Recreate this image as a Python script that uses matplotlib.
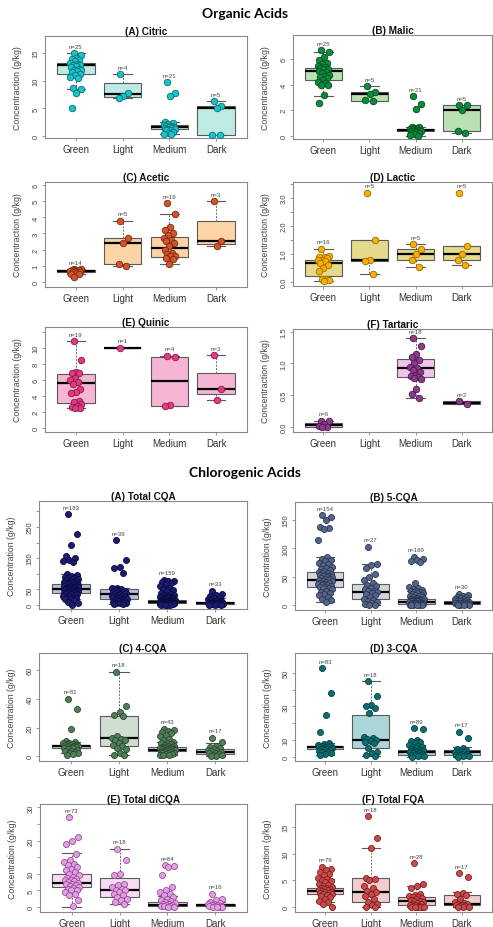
import numpy as np
import matplotlib
matplotlib.use("Agg")
import matplotlib.pyplot as plt

plt.rcParams['font.family'] = ['Liberation Sans', 'DejaVu Sans']

groups = ["Green", "Light", "Medium", "Dark"]

# ---------------- Organic acids ----------------
citric_pts = [
    [15.0, 14.6, 14.2, 14.0, 13.7, 13.5, 13.3, 13.1, 12.9, 12.8, 12.6, 12.4, 12.2, 12.0, 11.9, 11.7, 11.5, 11.3, 11.0, 10.7, 10.5, 8.7, 8.5, 7.7, 5.0],
    [11.2, 7.8, 7.3, 6.8],
    [9.7, 7.7, 7.2, 2.5, 2.3, 2.2, 2.0, 1.9, 1.8, 1.7, 1.6, 1.5, 1.4, 1.3, 1.2, 1.1, 1.0, 0.8, 0.6, 0.4, 0.3],
    [6.4, 5.5, 5.0, 0.2, 0.1],
]
citric_box = [(8.5, 11.3, 12.8, 13.3, 15.0), (6.8, 7.1, 7.6, 9.6, 11.2), (0.3, 1.2, 1.6, 2.0, 2.6), (0.1, 0.2, 5.1, 5.5, 6.4)]
citric_n = ["n=25", "n=4", "n=21", "n=5"]

malic_pts = [
    [6.7, 6.6, 6.2, 5.9, 5.7, 5.6, 5.5, 5.4, 5.3, 5.25, 5.2, 5.1, 5.0, 4.9, 4.8, 4.7, 4.6, 4.5, 4.4, 4.2, 4.1, 4.0, 4.0, 3.2, 2.6],
    [3.9, 3.4, 3.3, 2.8, 2.7],
    [3.1, 2.5, 2.1, 0.7, 0.65, 0.6, 0.55, 0.5, 0.5, 0.45, 0.45, 0.4, 0.4, 0.35, 0.35, 0.3, 0.25, 0.2, 0.1, 0.05, 0.0],
    [2.4, 2.4, 2.0, 0.4, 0.2],
]
malic_box = [(3.1, 4.4, 5.1, 5.3, 6.6), (2.7, 2.75, 3.3, 3.4, 3.9), (0.0, 0.35, 0.45, 0.55, 0.7), (0.2, 0.4, 2.0, 2.4, 2.4)]
malic_n = ["n=25", "n=5", "n=21", "n=5"]

acetic_pts = [
    [0.8, 0.78, 0.75, 0.72, 0.7, 0.68, 0.65, 0.62, 0.6, 0.58, 0.55, 0.5, 0.45, 0.3],
    [3.8, 2.7, 2.4, 1.1, 1.0],
    [4.9, 4.2, 3.4, 3.2, 3.0, 2.9, 2.7, 2.6, 2.5, 2.4, 2.2, 2.0, 1.8, 1.7, 1.6, 1.6, 1.5, 1.4, 1.1],
    [5.0, 2.5, 2.2],
]
acetic_box = [(0.5, 0.6, 0.65, 0.75, 0.8), (1.0, 1.1, 2.4, 2.7, 3.8), (1.1, 1.55, 2.1, 2.8, 4.2), (2.2, 2.35, 2.5, 3.75, 5.0)]
acetic_n = ["n=14", "n=5", "n=19", "n=3"]

lactic_pts = [
    [1.2, 0.92, 0.9, 0.88, 0.85, 0.8, 0.8, 0.75, 0.7, 0.6, 0.5, 0.4, 0.12, 0.1, 0.08, 0.05],
    [3.2, 1.5, 0.8, 0.75, 0.3],
    [1.35, 1.2, 1.0, 0.8, 0.55],
    [3.2, 1.3, 1.0, 0.8, 0.6],
]
lactic_box = [(0.05, 0.22, 0.7, 0.78, 1.2), (0.3, 0.75, 0.78, 1.5, 1.5), (0.55, 0.8, 1.0, 1.2, 1.35), (0.6, 0.8, 1.0, 1.3, 1.3)]
lactic_n = ["n=16", "n=5", "n=5", "n=5"]

quinic_pts = [
    [10.8, 8.5, 7.0, 6.9, 6.8, 6.2, 6.0, 5.7, 5.5, 4.8, 4.5, 4.3, 3.3, 3.2, 3.0, 2.7, 2.6, 2.5, 2.5],
    [10.0],
    [9.0, 8.9, 2.9, 2.7],
    [9.1, 4.9, 3.5],
]
quinic_box = [(2.5, 3.1, 5.6, 6.7, 10.8), (10.0, 10.0, 10.0, 10.0, 10.0), (2.7, 2.75, 5.8, 8.9, 9.0), (3.5, 4.2, 4.9, 6.9, 9.1)]
quinic_n = ["n=19", "n=1", "n=4", "n=3"]

tartaric_pts = [
    [0.1, 0.1, 0.05, 0.02, 0.0, 0.0],
    [],
    [1.4, 1.28, 1.15, 1.1, 1.05, 1.0, 0.95, 0.93, 0.9, 0.86, 0.82, 0.8, 0.78, 0.77, 0.75, 0.6, 0.52, 0.46],
    [0.41, 0.36],
]
tartaric_box = [(0.0, 0.0, 0.03, 0.06, 0.1), None, (0.46, 0.78, 0.93, 1.07, 1.4), (0.36, 0.36, 0.38, 0.40, 0.41)]
tartaric_n = ["n=6", "", "n=18", "n=2"]

# ---------------- Chlorogenic acids ----------------
tcqa_pts = [
    [290, 228, 191, 156, 150, 145, 142, 138, 100, 95, 92, 90, 88, 86, 84, 82, 80, 78, 76, 75, 74, 72, 70, 69, 68, 67, 66, 65, 64, 63,
     62, 61, 60, 59, 58, 57, 56, 55, 54, 53, 52, 51, 50, 49, 48, 47, 46, 45, 44, 43, 42, 41, 40, 39, 38, 37, 36, 35, 34, 32,
     30, 28, 26, 24, 22, 20, 18, 15, 10, 5, 0],
    [207, 143, 123, 119, 104, 55, 53, 50, 48, 46, 45, 43, 42, 40, 38, 36, 35, 34, 32, 30, 28, 26, 25, 24, 22, 20, 19, 18, 16, 15,
     14, 12, 10, 9, 8, 6, 5, 4, 3],
    [80, 78, 76, 74, 70, 66, 62, 56, 52, 48, 45, 40, 36, 33, 31, 30, 28, 27, 26, 25, 24, 23, 22, 21, 20, 19, 18, 17, 16, 16,
     15, 15, 14, 14, 13, 13, 12, 12, 11, 11, 10, 10, 10, 9, 9, 9, 8, 8, 8, 7, 7, 7, 6, 6, 6, 5, 5, 5, 4, 4, 4, 3, 3, 2, 2, 1, 1, 0, 0],
    [46, 36, 32, 28, 24, 21, 19, 17, 15, 14, 12, 11, 10, 10, 9, 8, 8, 7, 7, 6, 6, 6, 5, 5, 4, 4, 3, 3, 2, 2, 1, 1, 0],
]
tcqa_box = [(18, 40, 52, 68, 98), (3, 19, 35, 51, 55), (0, 5, 10, 16, 32), (0, 3, 6, 10, 21)]
tcqa_n = ["n=183", "n=39", "n=159", "n=33"]

cqa5_pts = [
    [158, 155, 150, 138, 135, 133, 115, 85, 82, 80, 78, 75, 72, 70, 68, 66, 64, 62, 60, 58, 57, 56, 55, 54, 53, 52, 51, 50, 49, 48,
     47, 46, 45, 44, 43, 42, 41, 40, 39, 38, 37, 36, 35, 34, 33, 32, 31, 30, 28, 26, 24, 22, 20, 18, 15, 12, 10, 6],
    [103, 72, 70, 65, 55, 50, 45, 40, 36, 34, 30, 28, 26, 25, 24, 22, 20, 18, 15, 12, 10, 8, 6, 5, 3, 1, 0],
    [85, 82, 80, 78, 76, 40, 32, 30, 28, 27, 26, 25, 24, 23, 22, 21, 20, 19, 18, 17, 16, 15, 14, 13, 12, 12, 11, 11, 10, 10,
     9, 9, 8, 8, 8, 7, 7, 7, 6, 6, 6, 5, 5, 5, 4, 4, 4, 3, 3, 3, 2, 2, 2, 1, 1, 1, 0, 0, 0],
    [20, 18, 16, 15, 14, 13, 12, 11, 10, 9, 8, 8, 7, 7, 6, 6, 5, 5, 5, 4, 4, 4, 3, 3, 2, 2, 1, 1, 0, 0],
]
cqa5_box = [(6, 33, 44, 59, 85), (0, 12, 24, 38, 72), (0, 3, 6, 12, 25), (0, 2, 5, 8, 15)]
cqa5_n = ["n=154", "n=27", "n=169", "n=30"]

cqa4_pts = [
    [40, 33, 19, 10.5, 10, 9.5, 9, 8.8, 8.5, 8.2, 8, 7.8, 7.5, 7.3, 7, 6.8, 6.5, 6.2, 6, 5.8, 5.5, 5, 4.5, 4, 3.5, 3, 2.5, 2, 1.5, 1],
    [59, 35, 31, 29, 28, 14, 13, 12, 11.5, 11, 9, 8, 7, 6, 5, 2, 1, 1],
    [19, 18, 17.5, 17, 16, 15, 14, 12, 11, 10, 9.5, 9, 8.5, 8, 7.5, 7, 6.8, 6.5, 6.2, 6, 5.8, 5.5, 5.4, 5.2, 5, 4.8, 4.6, 4.5,
     4.3, 4, 3.8, 3.5, 3.2, 3, 2.8, 2.5, 2.2, 2, 1.8, 1.5, 1.2, 1, 0.8],
    [13, 10, 7.5, 6.5, 6, 5, 4.5, 4, 3.5, 3, 2.5, 2, 1.5, 1, 1, 0.5, 0.3],
]
cqa4_box = [(2, 6, 7, 8, 10), (1, 7, 13, 28, 59), (1, 3.5, 4.5, 6.2, 10), (0, 1.5, 3, 5, 9)]
cqa4_n = ["n=81", "n=18", "n=43", "n=17"]

cqa3_pts = [
    [53, 38, 25, 15, 8, 7.5, 7, 6.8, 6.5, 6.2, 6, 5.8, 5.5, 5.2, 5, 4.8, 4.5, 4.2, 4, 3.5, 3, 2.5, 2, 1.5, 1],
    [45, 36, 31, 30, 29, 26, 12, 11, 10.5, 10, 9.5, 9, 8, 5, 3, 2, 1, 0.5],
    [17, 16.5, 10, 9.5, 9, 8, 7, 6.5, 6, 5.5, 5, 4.5, 4.2, 4, 3.8, 3.5, 3.2, 3, 2.8, 2.5, 2.2, 2, 1.8, 1.5, 1.2, 1, 0.8, 0.5, 0.2, 0],
    [15, 11, 5, 4.5, 4, 3.5, 3, 2.5, 2, 1.8, 1.5, 1.2, 1, 0.8, 0.5, 0.3, 0],
]
cqa3_box = [(1, 4.5, 5.5, 6.5, 8), (0.5, 5, 10, 25, 45), (0, 1, 2.5, 4, 7), (0, 1, 2.5, 4, 6)]
cqa3_n = ["n=83", "n=18", "n=89", "n=17"]

dicqa_pts = [
    [27, 21, 20, 19, 16, 14, 13.5, 13, 12.5, 12, 11.5, 11, 10.5, 10, 9.5, 9, 8.8, 8.5, 8.2, 8, 7.8, 7.5, 7.2, 7, 6.8, 6.5, 6.2,
     6, 5.8, 5.5, 5.2, 5, 4.5, 4, 3.5, 2, 0.2],
    [17.5, 14, 10, 9.5, 7, 6.5, 6, 5.5, 5, 5, 4.5, 4, 3.5, 3, 2.5, 2, 1.5, 1],
    [12.5, 12.2, 12, 9.5, 6, 5, 4.5, 4, 3.5, 3, 2.5, 2, 1.8, 1.5, 1.2, 1, 0.8, 0.6, 0.5, 0.4, 0.3, 0.2, 0.1, 0],
    [4, 2.5, 2, 1.5, 1.2, 1, 0.8, 0.6, 0.5, 0.4, 0.3, 0.2, 0.1, 0.1, 0, 0],
]
dicqa_box = [(0, 6, 7.3, 10, 16.2), (1, 2.9, 5, 8.7, 17.6), (0, 0.2, 0.5, 1.5, 3.3), (0, 0.2, 0.5, 1.0, 1.5)]
dicqa_n = ["n=73", "n=18", "n=84", "n=16"]

fqa_pts = [
    [7.5, 7.2, 7, 6.5, 6.2, 6, 5.5, 5.3, 5, 4.8, 4.6, 4.4, 4.2, 4, 3.8, 3.6, 3.5, 3.4, 3.3, 3.2, 3.1, 3, 2.9, 2.8, 2.7, 2.6,
     2.5, 2.4, 2.2, 2, 1.8, 1.5, 1.2, 1, 0.5, 0],
    [17, 13, 11.1, 5.5, 5.2, 5, 4, 3.5, 3, 2.8, 2.5, 2, 1.5, 1, 0.5, 0.3, 0.1, 0],
    [8.2, 4.3, 4.0, 3.5, 2.5, 2.2, 2.0, 1.9, 1.8, 1.6, 1.5, 1.3, 1.2, 1.1, 1.0, 0.8, 0.6, 0.5, 0.4, 0.3, 0.2, 0.2, 0.1, 0.1, 0, 0, 0, 0],
    [6.3, 5.7, 2.7, 2.5, 2.2, 1.5, 1.0, 0.8, 0.6, 0.5, 0.4, 0.3, 0.2, 0.2, 0.1, 0, 0],
]
fqa_box = [(0.9, 2.5, 3.0, 3.6, 5.3), (0, 1.0, 2.9, 5.5, 11.1), (0, 0.3, 1.2, 1.8, 3.85), (0, 0.3, 0.5, 2.2, 2.8)]
fqa_n = ["n=79", "n=18", "n=28", "n=17"]

# ---------------- layout / styling ----------------
W, H = 493, 928
fig = plt.figure(figsize=(W / 100, H / 100), dpi=100)


def rect(l, t, r, b):
    return [l / W, 1 - b / H, (r - l) / W, (b - t) / H]


panels = [
    # title, pts, box, n, rect(px), ylim, ticks, labels, boxcol, ptcol, edgecol, ylabel, spread, size
    ("(A) Citric", citric_pts, citric_box, citric_n, (45, 37, 247, 139), (-0.36, 18.1),
     [0, 5, 10, 15], ["0", "5", "10", "15"], "#bdebe3", "#19c3c9", "#0a6f73", "Concentraction (g/kg)", 0.26, 22),
    ("(B) Malic", malic_pts, malic_box, malic_n, (293, 36, 492, 140), (-0.26, 7.9),
     [0, 2, 4, 6], ["0", "2", "4", "6"], "#b9e1b3", "#0d8a3c", "#05501f", "Concentraction (g/kg)", 0.26, 22),
    ("(C) Acetic", acetic_pts, acetic_box, acetic_n, (45, 183, 247, 288), (-0.33, 6.2),
     [0, 1, 2, 3, 4, 5, 6], ["0", "1", "2", "3", "4", "5", "6"], "#fdd4a6", "#d4532c", "#7a2a10", "Concentraction (g/kg)", 0.26, 22),
    ("(D) Lactic", lactic_pts, lactic_box, lactic_n, (293, 183, 492, 287), (-0.14, 3.58),
     [0, 0.5, 1, 1.5, 2, 2.5, 3, 3.5], ["0.0", "", "1.0", "", "2.0", "", "3.0", ""], "#e5d98b", "#f5b000", "#a06a00", "Concentraction (g/kg)", 0.26, 22),
    ("(E) Quinic", quinic_pts, quinic_box, quinic_n, (45, 328, 247, 433), (-0.54, 12.6),
     [0, 2, 4, 6, 8, 10, 12], ["0", "2", "4", "6", "8", "10", ""], "#f7b5d5", "#e23a80", "#8a1a48", "Concentraction (g/kg)", 0.26, 22),
    ("(F) Tartaric", tartaric_pts, tartaric_box, tartaric_n, (293, 330, 492, 433), (-0.08, 1.54),
     [0, 0.5, 1.0, 1.5], ["0.0", "0.5", "1.0", "1.5"], "#f0c2ee", "#8c3b8c", "#4a1a4a", "Concentraction (g/kg)", 0.26, 22),
    ("(A) Total CQA", tcqa_pts, tcqa_box, tcqa_n, (39, 502, 247, 610), (-12.8, 333),
     [0, 50, 100, 150, 200, 250, 300], ["0", "50", "", "150", "", "250", ""], "#b9bdd9", "#1c1c70", "#0a0a40", "Concentration (g/kg)", 0.32, 19),
    ("(B) 5-CQA", cqa5_pts, cqa5_box, cqa5_n, (295, 503, 492, 611), (-8, 181),
     [0, 50, 100, 150], ["0", "50", "100", "150"], "#d3d6de", "#55658a", "#2a3450", "Concentration (g/kg)", 0.32, 19),
    ("(C) 4-CQA", cqa4_pts, cqa4_box, cqa4_n, (39, 654, 247, 762), (-3.3, 72),
     [0, 20, 40, 60], ["0", "20", "40", "60"], "#d2ddd2", "#4f7d58", "#2a4a30", "Concentration (g/kg)", 0.32, 19),
    ("(D) 3-CQA", cqa3_pts, cqa3_box, cqa3_n, (295, 654, 492, 762), (-2.6, 62),
     [0, 10, 20, 30, 40, 50], ["0", "10", "", "30", "", "50"], "#abd5d8", "#0b6f72", "#054042", "Concentration (g/kg)", 0.32, 19),
    ("(E) Total diCQA", dicqa_pts, dicqa_box, dicqa_n, (40, 805, 247, 913), (-1.5, 31),
     [0, 5, 10, 15, 20, 25, 30], ["0", "5", "10", "", "20", "", "30"], "#f8dcf3", "#e0a0e0", "#9a4a9a", "Concentration (g/kg)", 0.32, 19),
    ("(F) Total FQA", fqa_pts, fqa_box, fqa_n, (295, 805, 492, 913), (-0.93, 19.3),
     [0, 5, 10, 15], ["0", "5", "10", "15"], "#f3cccc", "#c94a4a", "#7a2020", "Concentration (g/kg)", 0.32, 19),
]

frame_col = "#8a8a8a"

for (title, pts, box, nlab, r, ylim, ticks, tlabels, bcol, pcol, ecol, ylab, spread, msize) in panels:
    ax = fig.add_axes(rect(*r))
    stats = []
    pos = []
    for i, b in enumerate(box):
        if b is None:
            continue
        stats.append(dict(whislo=b[0], q1=b[1], med=b[2], q3=b[3], whishi=b[4]))
        pos.append(i + 1)
    ax.bxp(stats, positions=pos, widths=0.8, patch_artist=True, showfliers=False,
           boxprops=dict(facecolor=bcol, edgecolor="#5a5a5a", linewidth=0.8),
           medianprops=dict(color="black", linewidth=1.6, solid_capstyle="butt"),
           whiskerprops=dict(color="#6a6a6a", linestyle=(0, (2, 1.5)), linewidth=0.7),
           capprops=dict(color="#5a5a5a", linewidth=0.8), capwidths=0.4,
           manage_ticks=False, zorder=2)
    yr = ylim[1] - ylim[0]
    for i, vals in enumerate(pts):
        if len(vals) == 0:
            continue
        v = np.asarray(vals, dtype=float)
        k = np.arange(len(v))
        jit = ((k * 0.6180339887 + 0.31) % 1.0 - 0.5) * spread
        ax.scatter(i + 1 + jit, v, s=msize, c=pcol, edgecolors=ecol, linewidths=0.6, zorder=3)
        if nlab[i]:
            ax.text(i + 1, v.max() + 0.065 * yr, nlab[i], ha="center", va="center",
                    fontsize=4.3, color="#444444", zorder=4)
    ax.set_xlim(0.34, 4.66)
    ax.set_ylim(*ylim)
    ax.set_xticks([1, 2, 3, 4])
    ax.set_xticklabels(groups, fontsize=7, color="#333333")
    ax.set_yticks(ticks)
    ax.set_yticklabels(tlabels, fontsize=5.5, color="#444444", rotation=90, va="center")
    ax.tick_params(axis="y", length=2.5, width=0.6, color=frame_col, pad=1.5)
    ax.tick_params(axis="x", length=2, width=0.6, color=frame_col, pad=2)
    for s in ax.spines.values():
        s.set_color(frame_col)
        s.set_linewidth(0.8)
    ax.set_title(title, fontsize=7.2, fontweight="bold", pad=1.5, color="#111111")
    wpx = r[2] - r[0]
    ax.set_ylabel(ylab, fontsize=6.3, color="#444444")
    ax.yaxis.set_label_coords(-23.0 / wpx, 0.5)

fig.text(245 / W, 1 - 14 / H, "Organic Acids", ha="center", va="center",
         fontsize=10, fontweight="bold", family=["Lato", "DejaVu Sans"])
fig.text(245 / W, 1 - 473 / H, "Chlorogenic Acids", ha="center", va="center",
         fontsize=10, fontweight="bold", family=["Lato", "DejaVu Sans"])

fig.savefig("out.png", dpi=100, facecolor="white")
